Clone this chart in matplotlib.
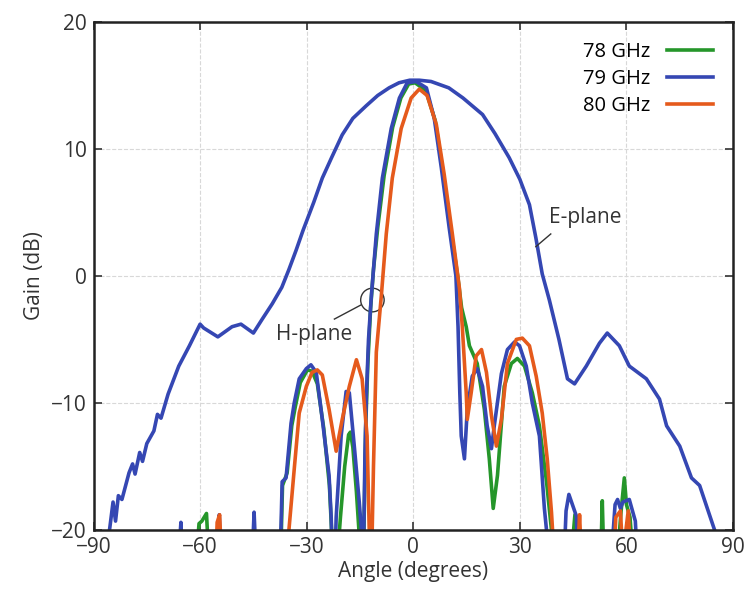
import matplotlib
matplotlib.use("Agg")
from matplotlib import pyplot as plt
from matplotlib.patches import Ellipse

plt.rcParams['font.family'] = ['Open Sans', 'DejaVu Sans']

# E-plane, 79 GHz
e_ang = [-86.5, -85.4, -84.5, -83.8, -83, -82, -80, -79, -78.3, -77, -76.2, -75, -73, -72, -71, -69,
         -66, -63, -60, -59, -55, -51, -48.5, -45, -42.5, -39.7, -37, -35, -33, -31, -28, -25.6,
         -23, -20, -17, -13.2, -10, -6.8, -4, -1, 1.7, 5, 10, 14, 19.5, 23, 27, 30, 32.7, 34.5,
         36.3, 38.3, 41, 43.4, 45.4, 48.7, 52.4, 54.6, 58, 60.8, 65.6, 69.3, 71.3, 75, 78.3,
         80.6, 84.2, 86]
e_gain = [-22, -19.8, -17.8, -19.3, -17.3, -17.6, -15.5, -14.8, -15.6, -13.9, -14.6, -13.2, -12.2, -10.9, -11.2, -9.3,
          -7.1, -5.5, -3.8, -4.1, -4.8, -4.0, -3.8, -4.5, -3.4, -2.2, -0.9, 0.5, 2.0, 3.6, 5.8, 7.7,
          9.3, 11.1, 12.4, 13.4, 14.2, 14.8, 15.2, 15.4, 15.4, 15.3, 14.8, 14.0, 12.7, 11.2, 9.3, 7.6, 5.6, 3.0,
          0.15, -1.9, -5.0, -8.1, -8.5, -7.1, -5.3, -4.5, -5.5, -7.1, -8.1, -9.7, -11.8, -13.4, -15.9,
          -16.5, -19.5, -21]

# H-plane, 78 GHz
h78_ang = [-61, -60.3, -59.5, -58.2, -57.6,
           -37.3, -36.8, -35.5, -34.2, -33.2, -31.8, -29.8, -28.5, -27, -25.2, -23.6, -23, -22.8,
           -21.3, -20.5, -19.3, -18.2, -17.7, -17.0, -16, -15.3, -15.0,
           -14.0, -13.4, -12.8, -12, -11.2, -10, -8.2, -5.8, -3.5, -1.3, 0.5, 3.5, 6.2, 8.2,
           10.5, 12.5, 13.6, 14.9, 15.8, 18, 20, 21.4, 22.5, 23.7, 25.6, 27.6, 29.3, 31.3,
           33.5, 35.5, 37.5, 38.9, 39.2,
           44.5, 45.5, 46.2, 52.8, 53.2, 53.6, 57.5, 58.5, 59.4, 60, 61, 61.8]
h78_gain = [-22, -19.5, -19.3, -18.7, -22,
            -22, -16.5, -15.5, -11.8, -10.3, -8.4, -7.4, -7.5, -8.5, -12, -16.5, -20, -22,
            -22, -19, -15, -12.5, -12.3, -13.5, -17, -20, -22,
            -22, -12, -7, -2.5, 0.5, 3.8, 7.9, 11.7, 14, 15.1, 15.2, 14.6, 12.2, 8.5,
            3.8, 0, -2.5, -4, -5.5, -6.9, -10.5, -14.4, -18.3, -15.7, -8.7, -6.9, -6.5, -7.1,
            -9.2, -11.8, -16.2, -20, -22,
            -22, -18.8, -22, -22, -17.7, -22, -22, -18.5, -15.9, -18, -19, -22]

# H-plane, 79 GHz
h79_ang = [-66, -65.4, -65, -55, -54.6, -54.2, -45.3, -44.8, -44.3,
           -37.5, -37.2, -36.9, -35.8, -34.4, -33.5, -32.1, -30.1, -28.8, -27.3, -25.6, -23.7,
           -23.1, -22.8, -22, -21.7, -20.3, -18.9, -18, -16.6, -15.2, -14.6, -14.3,
           -14.0, -13.6, -13.2, -12.6, -11.8, -10.4, -8.7, -6.2, -3.9, -1.7, 0.8, 3.7, 5.9,
           7.9, 10.1, 12.0, 12.6, 13.1, 13.5, 14.4, 15.2, 16.6, 18, 19.5, 20.8, 22, 22.8,
           24.8, 26.5, 28.5, 29.9, 31.8, 33.5, 35.5, 36.9, 37.5, 38,
           42.5, 43, 43.8, 45.9, 46.3, 55.8, 56.8, 57.5, 58.3, 59, 60.8, 62.5, 63]
h79_gain = [-22, -19.4, -22, -22, -18.8, -22, -22, -18.6, -22,
            -22, -19.5, -16.2, -15.9, -11.6, -10, -8.1, -7.3, -7.0, -7.6, -11.3, -15.7,
            -19, -22, -22, -19, -12.6, -9.1, -9.2, -13.4, -17.8, -20, -22,
            -22, -14, -9.5, -5, -1.6, 3.3, 7.7, 11.6, 14, 15.2, 15.3, 14.8, 12.4,
            8.5, 3.8, 0, -4, -9.2, -12.6, -14.4, -10.5, -7.9, -7.3, -8.7, -11.8, -13.6, -11.8,
            -7.7, -5.8, -5.2, -5.5, -7.1, -10, -12.6, -18.3, -20, -22,
            -22, -18.5, -17.2, -18.9, -22, -22, -18, -17.6, -18.3, -17.8, -17.6, -19.3, -22]

# H-plane, 80 GHz
h80_ang = [-55.5, -55.2, -54.5, -54,
           -35.3, -35, -33.5, -32.1, -30.1, -28.5, -27, -25.6, -23.7, -21.7, -20, -18, -16,
           -14.4, -13, -12.4, -12.2,
           -11.7, -11.2, -10.4, -9, -7.6, -5.9, -3.4, -0.6, 1.7, 3.9, 6.5, 8.7, 11, 13.0,
           13.8, 14.9, 15.2, 16.3, 17.7, 19.2, 20.6, 22, 23.4, 24.8, 26.5, 29, 30.7, 32.7,
           34.6, 36.3, 37.7, 38.9, 39.2, 39.5,
           46.3, 46.8, 47.3, 56.5, 57, 58.3, 59, 60.5, 61.2]
h80_gain = [-22, -19.4, -18.8, -22,
            -22, -20, -15.2, -10.8, -8.7, -7.6, -7.4, -7.8, -10.5, -13.8, -11.3, -8.7, -6.6,
            -8.1, -12.6, -20, -22,
            -22, -15, -6, -1.6, 3.3, 7.7, 11.6, 14, 14.7, 14.2, 11.9, 8, 3.3, -1,
            -4, -9.2, -11.3, -9.2, -6.3, -5.8, -7.6, -11, -13.4, -11.3, -6.9, -5, -4.9, -5.5,
            -7.9, -10.8, -14.4, -18.6, -20, -22,
            -22, -18.8, -22, -22, -19, -18.5, -22, -18.5, -22]

green = '#25962a'
blue = '#3547b3'
orange = '#e55a1c'
lw = 2.6
txt = '#333333'

fig = plt.figure(figsize=(7.48, 6.05), dpi=100)
ax = fig.add_axes([0.125, 0.124, 0.855, 0.84])

ax.plot(h78_ang, h78_gain, color=green, lw=lw, label='78 GHz')
ax.plot(h79_ang, h79_gain, color=blue, lw=lw, label='79 GHz')
ax.plot(h80_ang, h80_gain, color=orange, lw=lw, label='80 GHz')
ax.plot(e_ang, e_gain, color=blue, lw=lw)

ax.set_xlim(-90, 90)
ax.set_ylim(-20, 20)
ax.set_xticks([-90, -60, -30, 0, 30, 60, 90])
ax.set_yticks([-20, -10, 0, 10, 20])
ax.grid(True, color='#d8d8d8', ls='--', lw=0.8)
ax.tick_params(direction='in', length=6, width=1.2, labelsize=15, colors=txt,
               top=True, right=True, labelcolor=txt, pad=5)
for s in ax.spines.values():
    s.set_linewidth(1.8)
    s.set_color('#222222')

ax.set_xlabel('Angle (degrees)', fontsize=15, color=txt, labelpad=2)
ax.set_ylabel('Gain (dB)', fontsize=15, color=txt, labelpad=4)

ax.legend(loc='upper right', frameon=False, markerfirst=False, fontsize=14.5,
          handlelength=2.3, labelspacing=0.35, borderaxespad=0.6)

# annotations
ax.text(48.5, 4.6, 'E-plane', fontsize=15, color=txt, ha='center', va='center')
ax.plot([34.5, 38.7], [2.3, 3.3], color=txt, lw=1)
ax.text(-27.8, -4.6, 'H-plane', fontsize=15, color=txt, ha='center', va='center')
ax.plot([-22.2, -14.8], [-3.4, -2.3], color=txt, lw=1)
ax.add_patch(Ellipse((-11.5, -1.9), 6.6, 1.86, fill=False, ec=txt, lw=1))

plt.savefig('out.png', dpi=100)
